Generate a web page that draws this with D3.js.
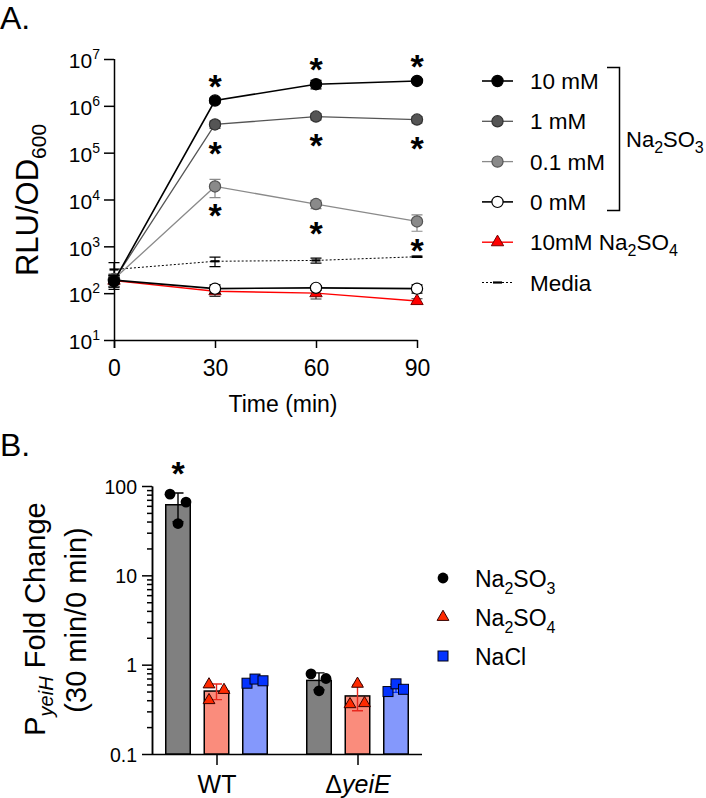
<!DOCTYPE html>
<html>
<head>
<meta charset="utf-8">
<script src="https://cdn.jsdelivr.net/npm/d3@7"></script>
<style>
  body { margin: 0; background: #fff; }
  svg text { font-family: "Liberation Sans", Arial, sans-serif; fill: #000; }
</style>
</head>
<body>
<svg></svg>
<script>
// ---- panel A data (RLU/OD600 over time) ----
const timePoints = [0, 30, 60, 90]
const seriesA = ["10 mM", "1 mM", "0.1 mM", "0 mM", "10mM Na{2}SO{4}", "Media"]
const mean10mM  = [180, 1.3e6, 2.9e6, 3.4e6]
const sd10mM    = [60, 1.6e5, 6e5, 3e5]
const mean1mM   = [190, 4.0e5, 5.9e5, 5.1e5]
const sd1mM     = [50, 7e4, 9e4, 8e4]
const mean01mM  = [200, 1.9e4, 8.0e3, 3.4e3]
const sd01mM    = [60, 8e3, 1.6e3, 1.3e3]
const mean0mM   = [190, 125, 130, 125]
const sd0mM     = [55, 25, 15, 25]
const meanSO4   = [185, 110, 100, 68]
const sdSO4     = [50, 25, 25, 8]
const meanMedia = [320, 480, 500, 600]
const sdMedia   = [130, 110, 60, 20]
const yTicksA = [1e1, 1e2, 1e3, 1e4, 1e5, 1e6, 1e7]

// significance stars in panel A
const starSeries = ["10 mM", "1 mM", "0.1 mM"]
const starSide = ["above", "below", "below"]
const starTimes = [30, 60, 90]

// ---- panel B data (fold change, replicate values) ----
const strains = ["WT", "ΔyeiE"]
const salts = ["Na2SO3", "Na2SO4", "NaCl"]
const wtSO3  = [81, 66, 38]
const wtSO4  = [0.60, 0.52, 0.40]
const wtNaCl = [0.62, 0.69, 0.66]
const dSO3   = [0.79, 0.70, 0.51]
const dSO4   = [0.61, 0.36, 0.37]
const dNaCl  = [0.50, 0.61, 0.53]
const yTicksB = [0.1, 1, 10, 100]

const width = 706, height = 798
const svg = d3.select("svg").attr("width", width).attr("height", height)
const FONT = "'Liberation Sans', Arial, sans-serif"

// write text with {sub} subscripts ({[..]} = italic subscript)
function rich(sel, str, fs, subFs, subDy) {
  const parts = str.split(/(\{[^}]*\})/).filter(s => s.length)
  let shifted = false
  parts.forEach(p => {
    const t = sel.append("tspan")
    if (p[0] === "{") {
      const inner = p.slice(1, -1)
      if (inner[0] === "[") t.text(inner.slice(1, -1)).attr("font-style", "italic")
      else t.text(inner)
      t.attr("font-size", subFs).attr("dy", subDy)
      shifted = true
    } else {
      t.text(p).attr("font-size", fs)
      if (shifted) { t.attr("dy", -subDy); shifted = false }
    }
  })
  return sel
}

// ================= PANEL A =================
svg.append("text").attr("x", 0).attr("y", 29).attr("font-size", 32).text("A.")

const xA = d3.scaleLinear().domain([0, 90]).range([114, 417])
const yA = d3.scaleLog().domain([10, 1e7]).range([340, 59])

const gA = svg.append("g")

const yAxisA = d3.axisLeft(yA).tickValues(yTicksA).tickSize(10).tickSizeOuter(0).tickPadding(4)
const yAG = gA.append("g").attr("transform", `translate(${xA(0)},0)`).call(yAxisA)
yAG.selectAll(".tick text").text(null).attr("font-size", 21).attr("font-family", FONT).attr("dy", "0.42em")
  .each(function(d) {
    const t = d3.select(this)
    t.append("tspan").text("10")
    t.append("tspan").attr("font-size", 14).attr("dy", -9).text(Math.round(Math.log10(d)))
  })

const xAxisA = d3.axisBottom(xA).tickValues(timePoints).tickSize(8).tickSizeOuter(0).tickPadding(12)
const xAG = gA.append("g").attr("transform", `translate(0,${yA(10)})`).call(xAxisA)
xAG.selectAll(".tick text").attr("font-size", 23).attr("font-family", FONT)

gA.selectAll(".domain, .tick line").attr("stroke", "#000").attr("stroke-width", 1.5)
yAG.select(".domain").attr("d", `M0.5,${yA(1e7)}V${yA(10) + 8}`)

gA.append("text").attr("x", 283).attr("y", 412).attr("text-anchor", "middle")
  .attr("font-size", 23).text("Time (min)")
gA.append("text").attr("transform", "translate(38,200) rotate(-90)").attr("text-anchor", "middle")
  .attr("font-size", 31).call(s => rich(s, "RLU/OD{600}", 31, 21, 8))

const styleA = {
  "10 mM":            { line: "#000", fill: "#000", stroke: "#000", lw: 1.6, shape: "circle" },
  "1 mM":             { line: "#555", fill: "#555", stroke: "#333", lw: 1.3, shape: "circle" },
  "0.1 mM":           { line: "#8a8a8a", fill: "#8a8a8a", stroke: "#555", lw: 1.3, shape: "circle" },
  "0 mM":             { line: "#000", fill: "#fff", stroke: "#000", lw: 1.6, shape: "circle" },
  "10mM Na{2}SO{4}":  { line: "#ff0000", fill: "#ff0000", stroke: "#700", lw: 1.4, shape: "triangle" },
  "Media":            { line: "#000", fill: "#000", stroke: "#000", lw: 1, shape: "dash", dash: "2,2" }
}
const meansA = [mean10mM, mean1mM, mean01mM, mean0mM, meanSO4, meanMedia]
const sdsA = [sd10mM, sd1mM, sd01mM, sd0mM, sdSO4, sdMedia]
const tableA = seriesA.map((name, i) => ({
  name,
  pts: timePoints.map((t, j) => ({ t, v: meansA[i][j], sd: sdsA[i][j] }))
}))

function drawMarker(g, shape, st, size) {
  if (shape === "circle") {
    g.append("circle").attr("r", size).attr("fill", st.fill).attr("stroke", st.stroke).attr("stroke-width", 1.2)
  } else if (shape === "triangle") {
    g.append("path").attr("d", d3.symbol(d3.symbolTriangle, size * size * 2.1)())
      .attr("fill", st.fill).attr("stroke", st.stroke).attr("stroke-width", 1)
  } else {
    g.append("line").attr("x1", -4.5).attr("x2", 4.5).attr("stroke", "#000").attr("stroke-width", 2.2)
  }
}

const drawOrder = ["Media", "10mM Na{2}SO{4}", "0 mM", "0.1 mM", "1 mM", "10 mM"]
const lineA = d3.line().x(d => xA(d.t)).y(d => yA(d.v))
drawOrder.forEach(name => {
  const s = tableA.find(d => d.name === name)
  const st = styleA[name]
  const g = gA.append("g")
  // error bars
  g.selectAll(".eb").data(s.pts).enter().append("path")
    .attr("d", d => {
      const hi = yA(d.v + d.sd), lo = yA(Math.max(d.v - d.sd, 11)), x = xA(d.t), c = 5.5
      return `M${x},${hi}V${lo}M${x - c},${hi}H${x + c}M${x - c},${lo}H${x + c}`
    })
    .attr("stroke", name === "10mM Na{2}SO{4}" ? "#333" : st.line).attr("stroke-width", 1.2).attr("fill", "none")
  g.append("path").datum(s.pts).attr("d", lineA).attr("fill", "none")
    .attr("stroke", st.line).attr("stroke-width", st.lw).attr("stroke-dasharray", st.dash || null)
  s.pts.forEach(d => {
    const m = g.append("g").attr("transform", `translate(${xA(d.t)},${yA(d.v)})`)
    drawMarker(m, st.shape, st, 5.6)
  })
})

// stars (text baseline sits ~0.58em below the glyph centre)
const starFs = 34
starSeries.forEach((name, i) => {
  const s = tableA.find(d => d.name === name)
  starTimes.forEach(t => {
    const p = s.pts.find(d => d.t === t)
    const cy = yA(p.v) + (starSide[i] === "above" ? -22.5 : 21)
    gA.append("text").attr("x", xA(t)).attr("y", cy + starFs * 0.58).attr("text-anchor", "middle")
      .attr("font-size", starFs).attr("font-weight", "bold").text("*")
  })
})

// legend A
const legA = svg.append("g")
seriesA.forEach((name, i) => {
  const st = styleA[name]
  const ry = 81 + i * 40.3
  const row = legA.append("g").attr("transform", `translate(0,${ry})`)
  row.append("line").attr("x1", 482).attr("x2", 513).attr("stroke", st.line)
    .attr("stroke-width", st.lw).attr("stroke-dasharray", st.dash || null)
  const m = row.append("g").attr("transform", "translate(497.5,0)")
  drawMarker(m, st.shape, st, 5.6)
  row.append("text").attr("x", 530).attr("y", 8).attr("font-size", 22.5)
    .call(s => rich(s, name, 22.5, 16, 6))
})
legA.append("path").attr("d", "M607,67.5H619.5V210.5H607").attr("fill", "none").attr("stroke", "#000").attr("stroke-width", 1.5)
legA.append("text").attr("x", 626).attr("y", 147).attr("font-size", 22).call(s => rich(s, "Na{2}SO{3}", 22, 16, 6))

// ================= PANEL B =================
svg.append("text").attr("x", 0).attr("y", 456).attr("font-size", 32).text("B.")

const yB = d3.scaleLog().domain([0.1, 100]).range([754, 486])
const xG = d3.scalePoint().domain(strains).range([216.5, 357.5])
const xT = d3.scalePoint().domain(salts).range([-38.5, 38.5])
const barW = 24.5
const axisLeftB = 152

const gB = svg.append("g")
const minorB = []
yTicksB.slice(0, -1).forEach(m => { for (let k = 2; k <= 9; k++) minorB.push(m * k) })

const yBG = gB.append("g").attr("transform", `translate(${axisLeftB},0)`)
yBG.append("g").call(d3.axisLeft(yB).tickValues(minorB).tickSize(5).tickSizeOuter(0).tickFormat(""))
yBG.append("g").call(d3.axisLeft(yB).tickValues(yTicksB).tickSize(10).tickSizeOuter(0).tickPadding(5)
  .tickFormat(d => d < 1 ? "0.1" : d3.format("d")(d)))
yBG.selectAll(".tick text").attr("font-size", 19.5).attr("font-family", FONT).attr("dy", "0.36em")

const xBG = gB.append("g").attr("transform", `translate(0,${yB(0.1)})`)
  .call(d3.axisBottom(xG).tickSize(11).tickSizeOuter(0).tickPadding(10))
xBG.select(".domain").attr("d", `M${axisLeftB},0.5H422`)
xBG.selectAll(".tick text").text(null).attr("font-size", 25).attr("font-family", FONT)
  .each(function(d) {
    const t = d3.select(this)
    if (d === "WT") t.append("tspan").text("WT")
    else { t.append("tspan").text("Δ"); t.append("tspan").attr("font-style", "italic").text("yeiE") }
  })
gB.selectAll(".domain, .tick line").attr("stroke", "#000").attr("stroke-width", 1.5)

gB.append("text").attr("transform", "translate(45,619) rotate(-90)").attr("text-anchor", "middle")
  .attr("font-size", 29).call(s => rich(s, "P{[yeiH]} Fold Change", 29, 20, 8))
gB.append("text").attr("transform", "translate(86,620) rotate(-90)").attr("text-anchor", "middle")
  .attr("font-size", 29).text("(30 min/0 min)")

const styleB = {
  "Na2SO3": { bar: "#808080", pt: "#000", ptStroke: "#000", eb: "#000", shape: "circle" },
  "Na2SO4": { bar: "#fa8c7c", pt: "#ff2a00", ptStroke: "#300", eb: "#e8281e", shape: "triangle" },
  "NaCl":   { bar: "#8498fc", pt: "#0433ff", ptStroke: "#001", eb: "#0433ff", shape: "square" }
}
const valuesB = { "WT": [wtSO3, wtSO4, wtNaCl], "ΔyeiE": [dSO3, dSO4, dNaCl] }
// horizontal spread of the replicate points (layout only)
const spreadB = {
  "WT":    [[-8, 8, 0], [-7.5, 7.5, -7.5], [-8, 0, 8]],
  "ΔyeiE": [[-8, 7, 0], [0, -7.5, 7], [-8, 0, 7.5]]
}
const tableB = []
strains.forEach(g => salts.forEach((s, i) => {
  const vals = valuesB[g][i]
  tableB.push({ g, s, vals, mean: d3.mean(vals), sd: d3.deviation(vals), spread: spreadB[g][i] })
}))

function markerB(sel, shape, st) {
  if (shape === "circle") sel.append("circle").attr("r", 5.4).attr("fill", st.pt)
  else if (shape === "triangle") sel.append("path").attr("d", d3.symbol(d3.symbolTriangle, 60)())
    .attr("fill", st.pt).attr("stroke", st.ptStroke).attr("stroke-width", 1)
  else sel.append("rect").attr("x", -5).attr("y", -5).attr("width", 10).attr("height", 10)
    .attr("fill", st.pt).attr("stroke", st.ptStroke).attr("stroke-width", 1)
}

tableB.forEach(d => {
  const st = styleB[d.s]
  const cx = xG(d.g) + xT(d.s)
  const g = gB.append("g")
  g.append("rect").attr("x", cx - barW / 2).attr("y", yB(d.mean))
    .attr("width", barW).attr("height", yB(0.1) - yB(d.mean))
    .attr("fill", st.bar).attr("stroke", "#000").attr("stroke-width", 1.5)
  const hi = yB(d.mean + d.sd), lo = yB(d.mean - d.sd), c = 5.5
  g.append("path").attr("d", `M${cx},${hi}V${lo}M${cx - c},${hi}H${cx + c}M${cx - c},${lo}H${cx + c}`)
    .attr("stroke", st.eb).attr("stroke-width", 1.4).attr("fill", "none")
  d.vals.forEach((v, k) => {
    const m = g.append("g").attr("transform", `translate(${cx + d.spread[k]},${yB(v)})`)
    markerB(m, st.shape, st)
  })
})

// star over WT sulfite
const wtTop = tableB[0]
gB.append("text").attr("x", xG("WT") + xT("Na2SO3")).attr("y", yB(wtTop.mean + wtTop.sd) - 28 + starFs * 0.58)
  .attr("text-anchor", "middle").attr("font-size", starFs).attr("font-weight", "bold").text("*")

// legend B
const legLabels = ["Na{2}SO{3}", "Na{2}SO{4}", "NaCl"]
salts.forEach((s, i) => {
  const ry = 578 + i * 39
  const row = svg.append("g").attr("transform", `translate(0,${ry})`)
  const m = row.append("g").attr("transform", "translate(443,0)")
  markerB(m, styleB[s].shape, styleB[s])
  row.append("text").attr("x", 475).attr("y", 8.5).attr("font-size", 23)
    .call(t => rich(t, legLabels[i], 23, 16, 7))
})
</script>
</body>
</html>
